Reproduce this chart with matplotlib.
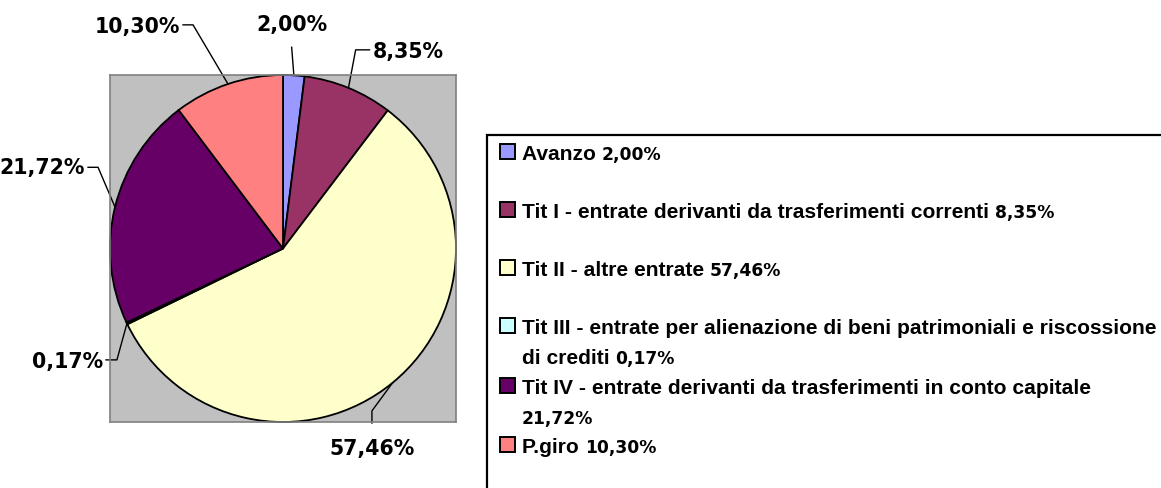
from matplotlib import pyplot as plt
from matplotlib.patches import Rectangle
import numpy as np

# data
labels = ['Avanzo',
          'Tit I - entrate derivanti da trasferimenti correnti',
          'Tit II - altre entrate',
          'Tit III - entrate per alienazione di beni patrimoniali e riscossione di crediti',
          'Tit IV - entrate derivanti da trasferimenti in conto capitale',
          'P.giro']
shares = [2.00, 8.35, 57.46, 0.17, 21.72, 10.30]
colors = ['#9999FF', '#993366', '#FFFFCC', '#CCFFFF', '#660066', '#FF8080']

W, H = 1161, 488


def pct(v):
    return ('%.2f' % v).replace('.', ',') + '%'


def fx(px):
    return px / W


def fy(py):
    return 1 - py / H


fig = plt.figure(figsize=(W / 100, H / 100), dpi=100)

# pie area (gray square)
ax = fig.add_axes([fx(110), fy(422), 346 / W, 347 / H])
wedges, _ = ax.pie(shares, colors=colors, startangle=90, counterclock=False,
                   radius=1, frame=True,
                   wedgeprops=dict(edgecolor='black', linewidth=1.3))
ax.set_xlim(-1, 1)
ax.set_ylim(-1, 1)
ax.set_aspect('auto')
ax.set_facecolor('#C0C0C0')
ax.set_xticks([])
ax.set_yticks([])
for sp in ax.spines.values():
    sp.set_color('#808080')
    sp.set_linewidth(1.2)

# leader layout: (elbow, end, text pos, ha) in pie units
leaders = [
    ((0.05, 1.16), (0.05, 1.16), (0.05, 1.29), 'center'),
    ((0.42, 1.145), (0.50, 1.145), (0.52, 1.133), 'left'),
    ((0.514, -0.936), (0.514, -1.006), (0.514, -1.156), 'center'),
    ((-0.96, -0.642), (-1.023, -0.642), (-1.04, -0.653), 'right'),
    ((-1.069, 0.468), (-1.127, 0.468), (-1.145, 0.462), 'right'),
    ((-0.52, 1.289), (-0.578, 1.289), (-0.595, 1.277), 'right'),
]

for w, v, (elb, end, tpos, ha) in zip(wedges, shares, leaders):
    ang = np.deg2rad((w.theta1 + w.theta2) / 2)
    x0, y0 = np.cos(ang), np.sin(ang)
    ax.plot([x0, elb[0], end[0]], [y0, elb[1], end[1]], color='black',
            lw=1.0, clip_on=False)
    ax.text(tpos[0], tpos[1], pct(v), ha=ha, va='center', fontsize=14.8,
            fontweight='bold', family='DejaVu Sans', clip_on=False)

# legend box
fig.patches.append(Rectangle((fx(487), fy(520)), 1, fy(135) - fy(520),
                             transform=fig.transFigure, facecolor='white',
                             edgecolor='black', linewidth=1.6))

# legend entries: lines of (label part, show pct)
legend_lines = [
    [(labels[0] + ' ', True)],
    [(labels[1] + ' ', True)],
    [(labels[2] + ' ', True)],
    [('Tit III - entrate per alienazione di beni patrimoniali e riscossione', False),
     ('di crediti ', True)],
    [('Tit IV - entrate derivanti da trasferimenti in conto capitale', False),
     ('', True)],
    [(labels[5] + ' ', True)],
]
# baselines in pixels
legend_y = [[160], [218], [276], [334, 364], [394, 424], [453]]

fig.canvas.draw()
renderer = fig.canvas.get_renderer()
for lines, ys, v, c in zip(legend_lines, legend_y, shares, colors):
    fig.patches.append(Rectangle((fx(500), fy(ys[0] - 1)), 15 / W, 15 / H,
                                 transform=fig.transFigure, facecolor=c,
                                 edgecolor='black', linewidth=1.4))
    for (txt, show), y in zip(lines, ys):
        x = 522
        if txt:
            t = fig.text(fx(x), fy(y), txt, ha='left', va='baseline',
                         fontsize=15.1, fontweight='bold',
                         family='Liberation Sans')
            x += t.get_window_extent(renderer).width
        if show:
            fig.text(fx(x), fy(y), pct(v), ha='left', va='baseline',
                     fontsize=12.3, fontweight='bold', family='DejaVu Sans')

fig.savefig('out.png', dpi=100)
